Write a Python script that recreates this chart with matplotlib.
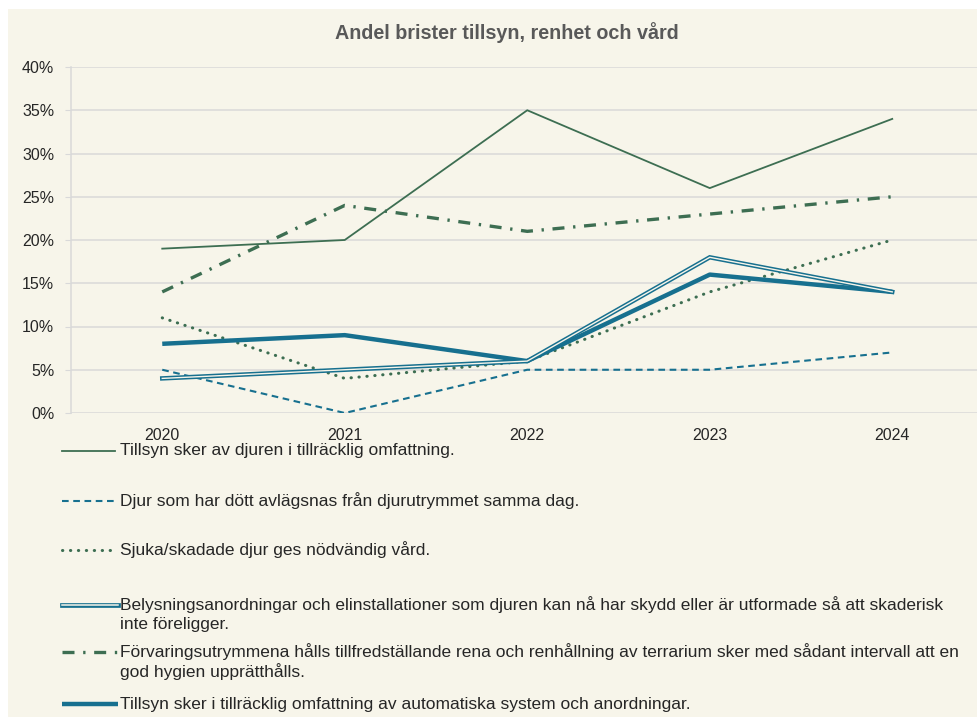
import matplotlib
matplotlib.use("Agg")
import matplotlib.pyplot as plt
from matplotlib.lines import Line2D
from matplotlib.patches import Rectangle
from matplotlib.ticker import PercentFormatter

years = ["2020", "2021", "2022", "2023", "2024"]
tillsyn_djur = [19, 20, 35, 26, 34]
dott_djur = [5, 0, 5, 5, 7]
sjuka_djur = [11, 4, 6, 14, 20]
belysning = [4, 5, 6, 18, 14]
forvaring = [14, 24, 21, 23, 25]
automatik = [8, 9, 6, 16, 14]

labels = [
    "Tillsyn sker av djuren i tillräcklig omfattning.",
    "Djur som har dött avlägsnas från djurutrymmet samma dag.",
    "Sjuka/skadade djur ges nödvändig vård.",
    "Belysningsanordningar och elinstallationer som djuren kan nå har skydd eller är utformade så att skaderisk\ninte föreligger.",
    "Förvaringsutrymmena hålls tillfredställande rena och renhållning av terrarium sker med sådant intervall att en\ngod hygien upprätthålls.",
    "Tillsyn sker i tillräcklig omfattning av automatiska system och anordningar.",
]
series = [tillsyn_djur, dott_djur, sjuka_djur, belysning, forvaring, automatik]

GREEN = "#3D6E52"
TEAL = "#17708F"
BG = "#F7F5EA"
GRID = "#D9D9D9"
TXT = "#262626"

styles = [
    dict(color=GREEN, lw=1.3, ls="-"),
    dict(color=TEAL, lw=1.5, ls=(0, (3.2, 2.2))),
    dict(color=GREEN, lw=2.2, ls=(0, (0.1, 2.5)), dash_capstyle="round"),
    None,  # double line
    dict(color=GREEN, lw=2.4, ls=(0, (3.6, 2.6, 0.7, 2.6))),
    dict(color=TEAL, lw=3.2, ls="-", solid_capstyle="butt"),
]

plt.rcParams["font.family"] = ["Liberation Sans", "DejaVu Sans"]

W, H = 978, 717
fig = plt.figure(figsize=(W / 100, H / 100), dpi=100)
fig.patch.set_facecolor("white")
fig.add_artist(Rectangle((8 / W, 0), 1, 1 - 9 / H, transform=fig.transFigure,
                         facecolor=BG, edgecolor="none", zorder=-10))

def fx(x):
    return x / W

def fy(y):
    return 1 - y / H

left, right, top, bottom = 71, 983.5, 67, 413
ax = fig.add_axes([fx(left), fy(bottom), (right - left) / W, (bottom - top) / H])
ax.set_facecolor("none")
x = list(range(len(years)))

for i, (vals, st) in enumerate(zip(series, styles)):
    if st is None:
        ax.plot(x, vals, color=TEAL, lw=3.2, solid_joinstyle="miter", zorder=3)
        ax.plot(x, vals, color=BG, lw=1.0, solid_joinstyle="miter", zorder=3.1)
    else:
        kw = dict(st)
        ax.plot(x, vals, color=kw.pop("color"), lw=kw.pop("lw"), linestyle=kw.pop("ls"),
                zorder=3, **kw)

ax.set_xlim(-0.5, len(years) - 0.5)
ax.set_ylim(0, 40)
ax.set_yticks(range(0, 41, 5))
ax.yaxis.set_major_formatter(PercentFormatter(decimals=0))
ax.set_xticks(x)
ax.set_xticklabels(years)
ax.grid(axis="y", color=GRID, lw=1.1)
ax.set_axisbelow(True)
for s in ["top", "right", "bottom"]:
    ax.spines[s].set_visible(False)
ax.spines["left"].set_color(GRID)
ax.spines["left"].set_linewidth(1.1)
ax.tick_params(axis="y", length=4, color=GRID, labelsize=11.5, labelcolor=TXT, pad=8)
ax.tick_params(axis="x", length=0, labelsize=11.5, labelcolor=TXT, pad=11)

fig.text(fx(507), fy(33), "Andel brister tillsyn, renhet och vård", ha="center", va="center",
         fontsize=14.2, fontweight="bold", color="#595959")

# legend
leg_y = [451, 501, 550, 605, 652, 704]
for i, (lab, st, yy) in enumerate(zip(labels, styles, leg_y)):
    x0, x1 = 62, (115 if i < 3 else 118)
    if st is None:
        fig.add_artist(Line2D([fx(x0), fx(x1)], [fy(yy), fy(yy)], transform=fig.transFigure,
                              color=TEAL, lw=3.4))
        fig.add_artist(Line2D([fx(x0), fx(x1)], [fy(yy), fy(yy)], transform=fig.transFigure,
                              color=BG, lw=1.1))
    else:
        kw = dict(st)
        fig.add_artist(Line2D([fx(x0), fx(x1)], [fy(yy), fy(yy)], transform=fig.transFigure,
                              color=kw.pop("color"), lw=kw.pop("lw"), linestyle=kw.pop("ls"), **kw))
    for j, line in enumerate(lab.split("\n")):
        fig.text(fx(120), fy(yy + 19.5 * j), line, ha="left", va="center", fontsize=12.5,
                 color=TXT)

fig.savefig("out.png", dpi=100, facecolor="white")
